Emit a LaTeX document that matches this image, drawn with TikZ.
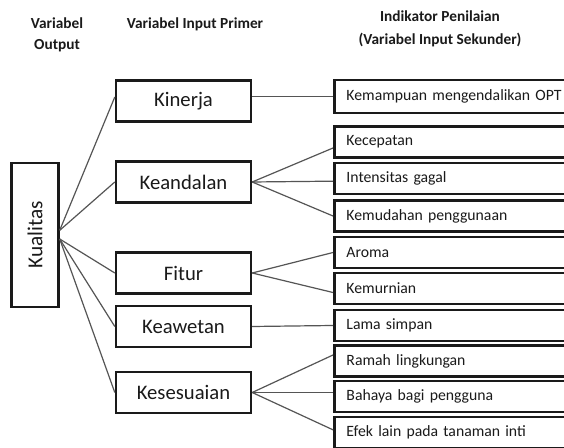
\documentclass[tikz,border=0pt]{standalone}
\usepackage{fontspec}
\setmainfont{Carlito}
\usetikzlibrary{positioning,calc}
\definecolor{ink}{HTML}{1A1A1A}
\definecolor{wire}{HTML}{555555}
\begin{document}
\begin{tikzpicture}[x=0.75pt,y=-0.75pt,
  hdr/.style={font=\bfseries\fontsize{11.5}{14}\selectfont, text=ink, align=center, inner sep=0pt},
  prim/.style={draw=ink, line width=1.8pt, fill=white, minimum width=101.25pt, minimum height=30.75pt, inner sep=0pt, font=\fontsize{15.5}{18}\selectfont, text=ink},
  sec/.style={draw=ink, line width=2.2pt, fill=white, anchor=west, text width=200pt, inner xsep=9pt, inner ysep=0pt, minimum height=23.25pt, align=left, font=\fontsize{11.8}{14}\selectfont, text=ink},
  outbox/.style={draw=ink, line width=1.8pt, fill=white, minimum width=108pt, minimum height=35.25pt, inner sep=0pt, rotate=90, font=\fontsize{16}{18}\selectfont, text=ink},
  wirel/.style={draw=wire, line width=0.9pt}]
\path[use as bounding box, clip] (0,0) rectangle (564,448);
\fill[white] (0,0) rectangle (564,448);

% headers
\node[hdr] (h1) at (57,35) {Variabel\\[2pt]Output};
\node[hdr] (h2) at (195,24) {Variabel Input Primer};
\node[hdr] (h3) at (440,29) {Indikator Penilaian\\[3pt](Variabel Input Sekunder)};

% output box
\node[outbox] (kual) at (35,235) {Kualitas};

% primary
\node[prim] (kin) at (183.5,101) {Kinerja};
\node[prim] (ked) at (183.5,182) {Keandalan};
\node[prim] (fit) at (183.5,273) {Fitur};
\node[prim] (kea) at (183.5,326.5) {Keawetan};
\node[prim] (kes) at (183.5,392.5) {Kesesuaian};

% secondary
\node[sec, minimum height=24.75pt] (s1) at (333,96.5) {Kemampuan mengendalikan OPT};
\node[sec] (s2) at (333,142) {Kecepatan};
\node[sec] (s3) at (333,178.5) {Intensitas gagal};
\node[sec] (s4) at (333,216) {Kemudahan penggunaan};
\node[sec] (s5) at (333,252.5) {Aroma};
\node[sec] (s6) at (333,288.5) {Kemurnian};
\node[sec] (s7) at (333,325.5) {Lama simpan};
\node[sec] (s8) at (333,361) {Ramah lingkungan};
\node[sec] (s9) at (333,396.5) {Bahaya bagi pengguna};
\node[sec] (s10) at (333,432.5) {Efek lain pada tanaman inti};

% connector anchors
\coordinate (ku) at ([yshift=3.5pt]kual.south);
\coordinate (kd) at ([yshift=-3pt]kual.south);

\draw[wirel] (ku) -- ([yshift=3pt]kin.west);
\draw[wirel] (ku) -- (ked.west);
\draw[wirel] (kd) -- (fit.west);
\draw[wirel] (kd) -- (kea.west);
\draw[wirel] (kd) -- (kes.west);

\draw[wirel] (s1.west) -- (s1.west -| kin.east);
\draw[wirel] (ked.east) -- ([yshift=-4.5pt]s2.west);
\draw[wirel] (ked.east) -- ([yshift=-2pt]s3.west);
\draw[wirel] (ked.east) -- (s4.west);
\draw[wirel] (fit.east) -- (s5.west);
\draw[wirel] (fit.east) -- ([yshift=-3pt]s6.west);
\draw[wirel] (kea.east) -- (s7.west);
\draw[wirel] (kes.east) -- ([yshift=4.5pt]s8.west);
\draw[wirel] (kes.east) -- ([yshift=3pt]s9.west);
\draw[wirel] (kes.east) -- ([yshift=2pt]s10.west);
\end{tikzpicture}
\end{document}
